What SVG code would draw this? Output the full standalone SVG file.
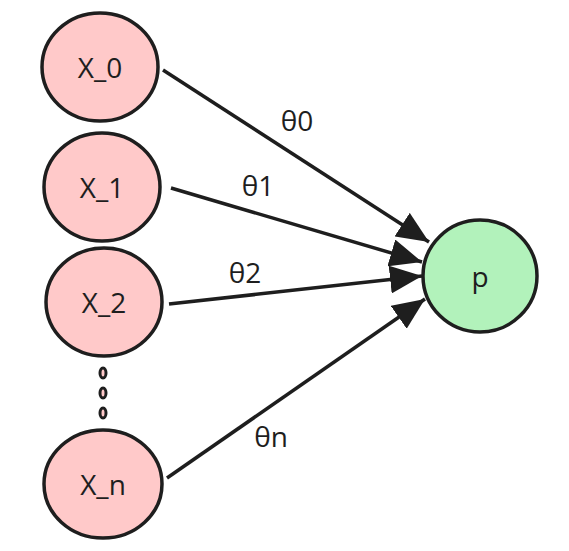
<svg xmlns="http://www.w3.org/2000/svg" width="569" height="551" viewBox="0 0 569 551">
<style>
.in{fill:#ffc9c9;stroke:#1e1e1e;stroke-width:3.5}
.out{fill:#b2f2bb;stroke:#1e1e1e;stroke-width:3.5}
.dot{fill:#ffc9c9;stroke:#1e1e1e;stroke-width:3}
.t{font-family:"Open Sans","Noto Sans","Liberation Sans",sans-serif;font-size:28px;fill:#1e1e1e;text-anchor:middle;dominant-baseline:central}
.e{stroke:#1e1e1e;stroke-width:3.5;fill:none;marker-end:url(#ah)}
</style>
<defs>
<marker id="ah" viewBox="0 0 32 28" refX="32" refY="14" markerWidth="32" markerHeight="28" markerUnits="userSpaceOnUse" orient="auto">
<path d="M0,0 L32,14 L0,28 z" fill="#1e1e1e"/>
</marker>
</defs>
<g id="edges">
<line class="e" x1="163" y1="70" x2="429" y2="242"/>
<line class="e" x1="171" y1="188" x2="422" y2="262"/>
<line class="e" x1="169" y1="304" x2="422" y2="276"/>
<line class="e" x1="167" y1="478" x2="425" y2="299"/>
<text class="t" x="297" y="120">θ0</text>
<text class="t" x="258" y="185">θ1</text>
<text class="t" x="245" y="272">θ2</text>
<text class="t" x="271" y="436">θn</text>
</g>
<g id="x0"><ellipse class="in" cx="100" cy="67" rx="58" ry="54"/><text class="t" x="100" y="67">X_0</text></g>
<g id="x1"><ellipse class="in" cx="102" cy="187" rx="58" ry="54"/><text class="t" x="102" y="187">X_1</text></g>
<g id="x2"><ellipse class="in" cx="104" cy="302" rx="58" ry="54"/><text class="t" x="104" y="302">X_2</text></g>
<g id="dots">
<ellipse class="dot" cx="103" cy="373" rx="3" ry="5"/>
<ellipse class="dot" cx="103" cy="393" rx="3" ry="5"/>
<ellipse class="dot" cx="103" cy="413" rx="3" ry="5"/>
</g>
<g id="xn"><ellipse class="in" cx="103" cy="484" rx="59" ry="54"/><text class="t" x="103" y="484">X_n</text></g>
<g id="p"><ellipse class="out" cx="480" cy="276" rx="57" ry="56"/><text class="t" x="480" y="276">p</text></g>
</svg>
